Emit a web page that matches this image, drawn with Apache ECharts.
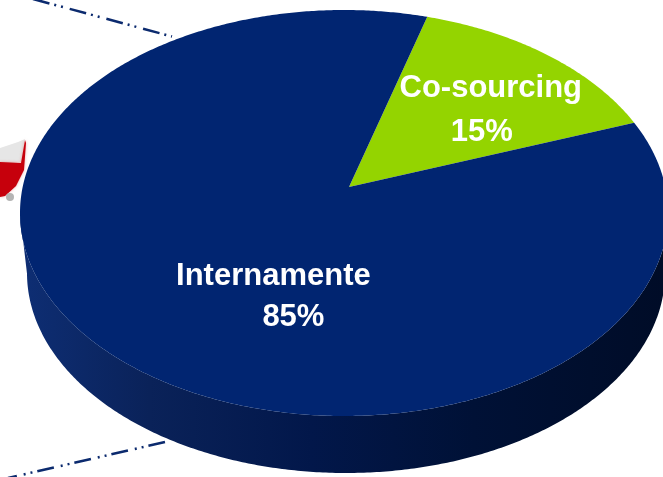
<!DOCTYPE html>
<html>
<head>
<meta charset="utf-8">
<script src="https://cdn.jsdelivr.net/npm/echarts@6/dist/echarts.min.js"></script>
<style>
  html, body { margin: 0; padding: 0; background: #ffffff; }
  #chart { width: 663px; height: 477px; }
</style>
</head>
<body>
<div id="chart"></div>
<script>
// Sourcing split
const categories = ['Co-sourcing', 'Internamente'];
const shares = [15, 85];

// Look
const SLICE_COLORS = ['#94d400', '#012571'];
const SIDE_STOPS = [
  [[0, '#4f7300'], [1, '#2c4300']],
  [[0, '#0e2e74'], [0.2, '#0a2259'], [0.45, '#02174a'], [0.7, '#001136'], [1, '#000c27']]
];
const LABEL_FONT = 'bold 31px "Liberation Sans", Arial, sans-serif';

// Tilted disc: top face ellipse, bottom rim ellipse, apex (projected centre)
const TOP = { cx: 344, cy: 213, rx: 324, ry: 203 };
const BOTTOM = { cx: 346, cy: 273, rx: 319, ry: 200 };
const APEX = [(349 - 344) / 324, (213 - 187) / 203];
const START_ANGLE = 74; // degrees, counter-clockwise from 3 o'clock; slices run clockwise

// Label anchors in disc coordinates (angle, radius) plus per-line offsets
const LABEL_LAYOUT = [
  { angle: 42.5, r: 0.615, name: [4.5, -20.5], pct: [-4.5, 23.5] },
  { angle: -110.7, r: 0.54, name: [-10, -19], pct: [10, 22] }
];

const total = shares.reduce((a, b) => a + b, 0);
const sliceAngles = [];
(function () {
  let acc = 0;
  shares.forEach(v => {
    const a0 = START_ANGLE - 360 * acc / total;
    acc += v;
    const a1 = START_ANGLE - 360 * acc / total;
    sliceAngles.push([a0, a1]);
  });
})();

// Projective map of the unit disc onto itself that moves the centre to APEX
function perspective(qx, qy) {
  const px = APEX[0], py = APEX[1];
  const b2 = px * px + py * py;
  const s = Math.sqrt(1 - b2);
  const pq = px * qx + py * qy;
  const k = (1 - s) * pq / b2;
  return [(s * qx + k * px + px) / (1 + pq), (s * qy + k * py + py) / (1 + pq)];
}
function toTop(d) { return [TOP.cx + TOP.rx * d[0], TOP.cy - TOP.ry * d[1]]; }
function project(deg, r) {
  const t = deg * Math.PI / 180;
  return toTop(perspective(r * Math.cos(t), r * Math.sin(t)));
}
function sweep(a0, a1, step) {
  const list = [];
  for (let t = a0; t > a1; t -= step) list.push(t);
  list.push(a1);
  return list;
}

function renderSide(params, api) {
  const i = params.dataIndex;
  const [a0, a1] = sliceAngles[i];
  const runs = [];
  let cur = null;
  sweep(a0, a1, 0.5).forEach(t => {
    const rad = t * Math.PI / 180;
    const d = perspective(Math.cos(rad), Math.sin(rad));
    if (d[1] < 0) {
      const phi = Math.atan2(d[1], d[0]);
      const top = toTop(d);
      const bot = [BOTTOM.cx + BOTTOM.rx * Math.cos(phi), BOTTOM.cy - BOTTOM.ry * Math.sin(phi)];
      if (!cur) { cur = { top: [], bot: [] }; runs.push(cur); }
      cur.top.push(top);
      cur.bot.push(bot);
    } else {
      cur = null;
    }
  });
  return {
    type: 'group',
    children: runs.map(run => ({
      type: 'polygon',
      shape: { points: run.top.concat(run.bot.slice().reverse()) },
      style: {
        fill: new echarts.graphic.LinearGradient(0, 0, 1, 0,
          SIDE_STOPS[i].map(s => ({ offset: s[0], color: s[1] })))
      }
    }))
  };
}

function renderTop(params, api) {
  const i = params.dataIndex;
  const [a0, a1] = sliceAngles[i];
  const pts = [project(0, 0)].concat(sweep(a0, a1, 0.5).map(t => project(t, 1)));
  const lay = LABEL_LAYOUT[i];
  const anchor = project(lay.angle, lay.r);
  const pct = Math.round(api.value(0) / total * 100) + '%';
  return {
    type: 'group',
    children: [
      { type: 'polygon', shape: { points: pts }, style: { fill: SLICE_COLORS[i] } },
      {
        type: 'text', z2: 10,
        x: anchor[0] + lay.name[0], y: anchor[1] + lay.name[1],
        style: { text: categories[i], fill: '#ffffff', font: LABEL_FONT, align: 'center', verticalAlign: 'middle' }
      },
      {
        type: 'text', z2: 10,
        x: anchor[0] + lay.pct[0], y: anchor[1] + lay.pct[1],
        style: { text: pct, fill: '#ffffff', font: LABEL_FONT, align: 'center', verticalAlign: 'middle' }
      }
    ]
  };
}

const sliceData = shares.map((v, i) => ({ name: categories[i], value: [v] }));

const LINE_STYLE = { stroke: '#0b2a6e', lineWidth: 2.5, lineDash: [17, 5, 2, 5, 2, 7] };

const chart = echarts.init(document.getElementById('chart'), null, { renderer: 'canvas' });
chart.setOption({
  animation: false,
  backgroundColor: '#ffffff',
  graphic: [
    { type: 'line', z: 0, shape: { x1: 33, y1: -1, x2: 172, y2: 36.5 }, style: LINE_STYLE },
    { type: 'line', z: 0, shape: { x1: 165, y1: 442, x2: 8, y2: 478 }, style: LINE_STYLE },
    { type: 'polygon', z: 0, shape: { points: [[0, 148], [18, 142], [25, 139], [22, 162], [0, 164]] },
      style: { fill: '#e6e6e6' } },
    { type: 'polygon', z: 0, shape: { points: [[0, 162], [21, 163], [25, 140], [26, 143], [24, 170], [16, 186], [5, 196], [0, 197]] },
      style: { fill: '#c6000c', shadowBlur: 3, shadowColor: 'rgba(220,80,80,0.5)' } },
    { type: 'circle', z: 0, shape: { cx: 10, cy: 197, r: 4 }, style: { fill: '#b4b4b4' } }
  ],
  series: [
    { type: 'custom', coordinateSystem: 'none', z: 2, renderItem: renderSide, data: sliceData, silent: true },
    { type: 'custom', coordinateSystem: 'none', z: 3, renderItem: renderTop, data: sliceData, silent: true }
  ]
});
</script>
</body>
</html>
